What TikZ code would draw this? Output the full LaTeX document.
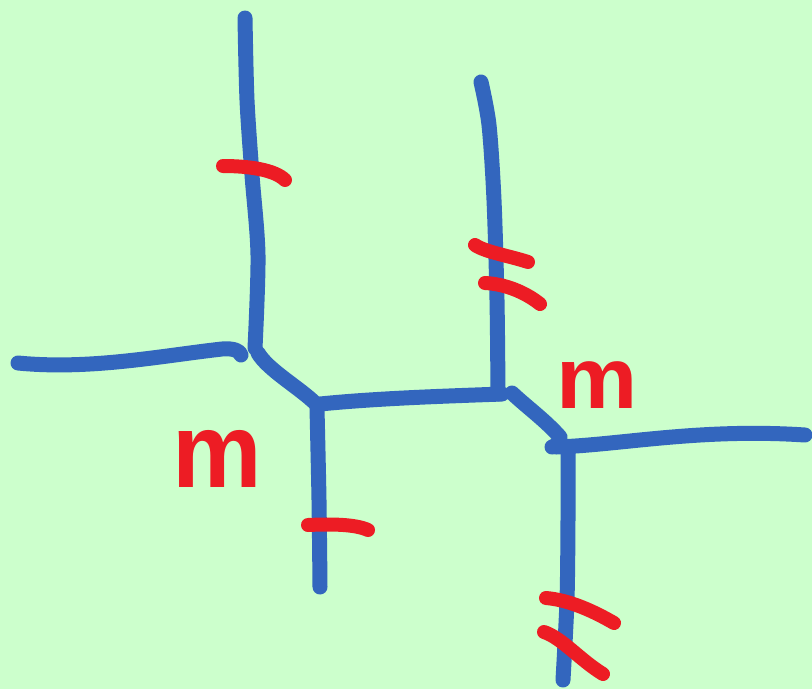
\documentclass[tikz,border=0pt]{standalone}
\usepackage{fontspec}
\setmainfont{Liberation Sans}
\definecolor{bg}{RGB}{204,255,204}
\definecolor{pen}{RGB}{51,102,190}
\definecolor{ink}{RGB}{237,28,36}
\begin{document}
\begin{tikzpicture}[x=1pt,y=-1pt,
  bluestroke/.style={pen, line width=15pt, line cap=round, line join=round},
  redtick/.style={ink, line width=14pt, line cap=round, line join=round},
  mlabel/.style={ink, inner sep=0pt, anchor=base, font=\bfseries}]
\fill[bg] (0,0) rectangle (812,689);
\useasboundingbox (0,0) rectangle (812,689);
% blue strokes
\draw[bluestroke] plot[smooth] coordinates {(245,18) (247,100) (252,175) (258,255) (255,348)};
\draw[bluestroke] (18,363) .. controls (90,370) and (160,356) .. (222,349) .. controls (234,348) and (240,351) .. (241,355);
\draw[bluestroke] (258,353) .. controls (268,370) and (300,388) .. (316,404);
\draw[bluestroke] (320,404) .. controls (380,398) and (450,396) .. (502,394);
\draw[bluestroke] plot[smooth] coordinates {(317,408) (319,500) (320,587)};
\draw[bluestroke] plot[smooth] coordinates {(481,82) (489,125) (494,200) (497,300) (498,394)};
\draw[bluestroke] (512,393) .. controls (528,408) and (545,420) .. (560,437) .. controls (560,442) and (556,446) .. (552,447);
\draw[bluestroke] (556,447) .. controls (620,445) and (700,428) .. (805,435);
\draw[bluestroke] plot[smooth] coordinates {(568,448) (568,520) (567,600) (563,680)};
% red ticks
\draw[redtick] (223,166) .. controls (250,166) and (275,170) .. (285,180);
\draw[redtick] (308,525) .. controls (330,524) and (355,524) .. (368,530);
\draw[redtick] (475,245) .. controls (485,252) and (510,256) .. (528,262);
\draw[redtick] (485,283) .. controls (505,284) and (525,292) .. (540,304);
\draw[redtick] (546,598) .. controls (570,600) and (595,612) .. (614,623);
\draw[redtick] (544,632) .. controls (562,638) and (580,660) .. (603,674);
% m labels
\node[mlabel, font=\bfseries\fontsize{106}{106}\selectfont, xscale=0.95] (m1) at (217,487) {m};
\node[mlabel, font=\bfseries\fontsize{87}{87}\selectfont, xscale=1.05] (m2) at (597,408) {m};
\end{tikzpicture}
\end{document}
